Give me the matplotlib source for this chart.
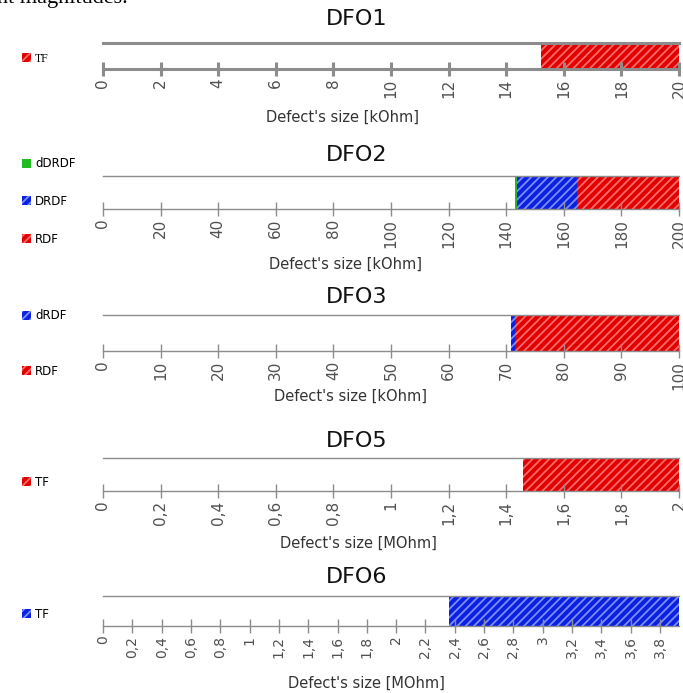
import numpy as np
import matplotlib.pyplot as plt
from matplotlib.patches import Patch

# --- dati (inizio, fine di ogni intervallo) ---
dfo1_labels = ['TF']
dfo1_start = [15.2]
dfo1_end = [20.0]

dfo2_labels = ['dDRDF', 'DRDF', 'RDF']
dfo2_start = [143.0, 143.6, 164.7]
dfo2_end = [143.6, 164.7, 200.0]

dfo3_labels = ['dRDF', 'RDF']
dfo3_start = [70.9, 71.6]
dfo3_end = [71.6, 100.0]

dfo5_labels = ['TF']
dfo5_start = [1.46]
dfo5_end = [2.0]

dfo6_labels = ['TF']
dfo6_start = [2.36]
dfo6_end = [3.93]

RED = ('#e00000', '#ff6a6a')
BLUE = ('#0a22e0', '#7f8cff')
GREEN = ('#22bb22', '#22bb22')

W, H = 683, 693
plt.rcParams['hatch.linewidth'] = 1.3


def fmt(v):
    return f"{round(v, 1):g}".replace('.', ',')


fig = plt.figure(figsize=(W / 100, H / 100), dpi=100)

# testo tagliato in alto (pagina originale)
fig.text(-0.005, 1 - 3 / H, "nt magnitudes.", family='Liberation Serif',
         fontsize=16, va='baseline', ha='left')

panels = [
    # titolo, etichette, inizi, fini, colori, xmax, ticks, unita, top, asse,
    # y titolo, y xlabel, x xlabel, y legenda, spaziatura, spessore, size ticks
    ('DFO1', dfo1_labels, dfo1_start, dfo1_end, [RED], 20, np.arange(0, 21, 2),
     'kOhm', 43, 69, 19, 117, 342, 59, 1.0, 2.2, 11),
    ('DFO2', dfo2_labels, dfo2_start, dfo2_end, [GREEN, BLUE, RED], 200,
     np.arange(0, 201, 20), 'kOhm', 176, 209, 155, 264, 345, 201.5, 2.1, 1.0, 11),
    ('DFO3', dfo3_labels, dfo3_start, dfo3_end, [BLUE, RED], 100,
     np.arange(0, 101, 10), 'kOhm', 315, 351, 297, 396, 350, 343.5, 3.6, 1.0, 11),
    ('DFO5', dfo5_labels, dfo5_start, dfo5_end, [RED], 2.0,
     np.arange(0, 2.01, 0.2), 'MOhm', 458, 491, 441, 543, 358, 482, 1.0, 1.0, 11),
    ('DFO6', dfo6_labels, dfo6_start, dfo6_end, [BLUE], 3.93,
     np.arange(0, 3.81, 0.2), 'MOhm', 596, 626, 577, 683, 366, 614, 1.0, 1.0, 10),
]

x0, x1 = 103, 679
for (title, labels, starts, ends, cols, xmax, ticks, unit, top, bot,
     ty, ly, lx, legy, lsp, lw, tsize) in panels:
    ax = fig.add_axes([x0 / W, 1 - bot / H, (x1 - x0) / W, (bot - top) / H])
    handles = []
    for lab, s, e, (fc, hc) in zip(labels, starts, ends, cols):
        ax.barh(0, e - s, left=s, height=1, color=fc, edgecolor=hc,
                hatch='////', linewidth=0)
        handles.append(Patch(facecolor=fc, edgecolor=hc, hatch='////',
                             linewidth=0, label=lab))
    ax.set_xlim(0, xmax)
    ax.set_ylim(-0.5, 0.5)
    ax.set_yticks([])
    for side in ['left', 'right']:
        ax.spines[side].set_visible(False)
    for side in ['top', 'bottom']:
        ax.spines[side].set_color('#8c8c8c')
        ax.spines[side].set_linewidth(lw)
    ax.set_xticks(ticks)
    ax.set_xticklabels([fmt(t) for t in ticks], rotation=90)
    ax.tick_params(axis='x', direction='inout', length=10, width=lw,
                   color='#8c8c8c', labelcolor='#505050', labelsize=tsize, pad=2)
    ax.patch.set_alpha(0)

    fig.text(lx / W, 1 - ly / H, f"Defect's size [{unit}]", ha='center',
             va='center', fontsize=10.5, color='#333333')
    fig.text(357 / W, 1 - ty / H, title, ha='center', va='center',
             fontsize=16, color='#111111')

    leg_font = 'Liberation Serif' if title == 'DFO1' else 'DejaVu Sans'
    ax.legend(handles=handles, loc='center left',
              bbox_to_anchor=(22 / W, 1 - legy / H), bbox_transform=fig.transFigure,
              frameon=False, handlelength=0.8, handleheight=0.8,
              handletextpad=0.3, borderpad=0, borderaxespad=0,
              labelspacing=lsp, prop={'family': leg_font, 'size': 8.5})

fig.savefig('out.png', dpi=100)
